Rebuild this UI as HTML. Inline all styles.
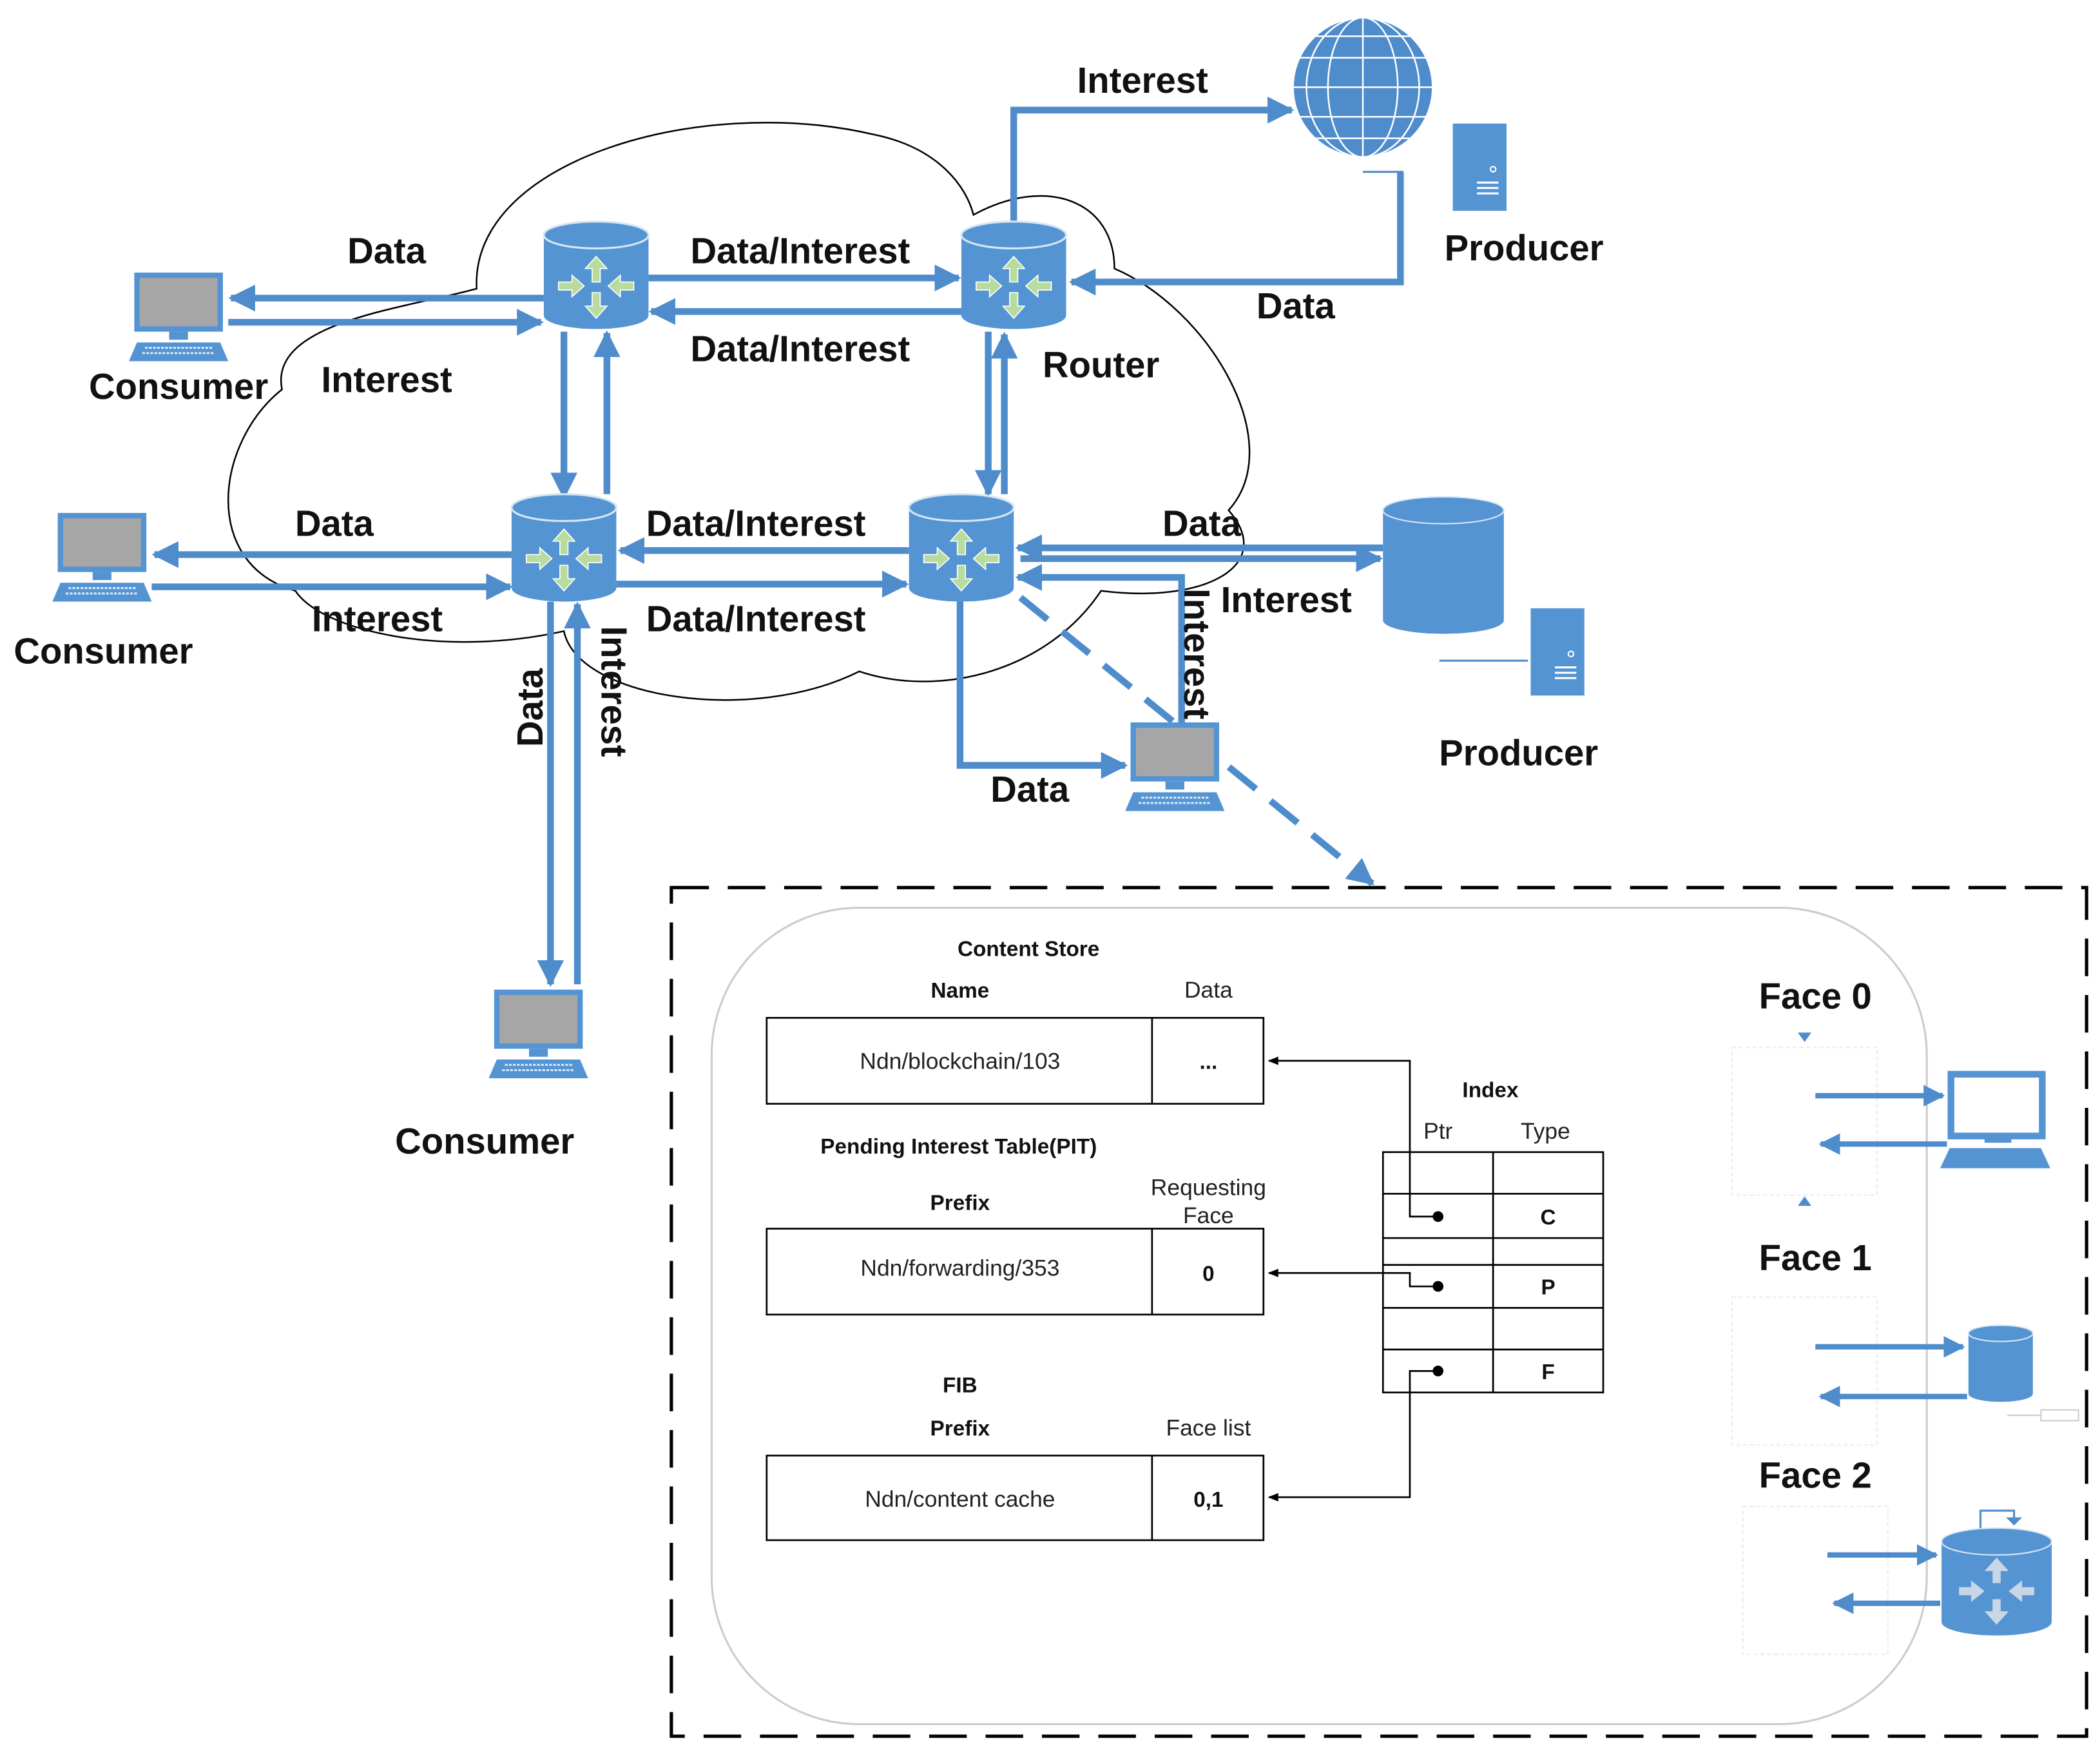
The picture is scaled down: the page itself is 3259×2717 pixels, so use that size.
<!DOCTYPE html>
<html><head><meta charset="utf-8"><style>
html,body{margin:0;padding:0;background:#fff}
svg{display:block}
text{font-family:"Liberation Sans",sans-serif}
.b{font-weight:bold;font-size:27px;fill:#111}
.s{font-size:17px;fill:#222}
.sb{font-size:16px;font-weight:bold;fill:#111}
</style></head><body>
<svg width="3259" height="2717" viewBox="0 0 1564 1304" preserveAspectRatio="none" xmlns="http://www.w3.org/2000/svg">
<defs>
<marker id="a" viewBox="0 0 10 10" refX="9" refY="5" markerWidth="4" markerHeight="4" orient="auto-start-reverse" markerUnits="strokeWidth"><path d="M0,0L10,5L0,10z" fill="#4f8ccc"/></marker>
<marker id="k" viewBox="0 0 10 10" refX="9" refY="5" markerWidth="6" markerHeight="6" orient="auto"><path d="M0,1L10,5L0,9z" fill="#000"/></marker>
<g id="rt">
<path d="M0,10 L0,70 A39,10 0 0 0 78,70 L78,10 z" fill="#5594d3"/>
<ellipse cx="39" cy="10" rx="39" ry="10" fill="#5594d3" stroke="#d6e6f4" stroke-width="1.5"/>
<g fill="#b8dca0" stroke="#fff" stroke-width="0.8">
<path d="M39,26 l-8,9 h5 v10 h6 v-10 h5 z"/>
<path d="M39,72 l-8,-9 h5 v-10 h6 v10 h5 z"/>
<path d="M30,48 l-9,-8 v5 h-10 v6 h10 v5 z"/>
<path d="M48,48 l9,-8 v5 h10 v6 h-10 v5 z"/>
</g></g>
<g id="pc">
<rect x="4" y="0" width="66" height="44" fill="#5594d3"/>
<rect x="8" y="4" width="58" height="36" fill="#a6a6a6"/>
<rect x="30" y="44" width="14" height="6" fill="#5594d3"/>
<path d="M6,52 H68 L74,66 H0 z" fill="#5594d3"/>
<path d="M12,56 H62 M10,60 H64" stroke="#dbe8f5" stroke-width="1.5" stroke-dasharray="2,1"/>
</g>
<g id="srv"><rect x="0" y="0" width="40" height="65" fill="#5594d3"/><circle cx="30" cy="34" r="2" fill="none" stroke="#fff"/><path d="M18,44H34M18,48H34M18,52H34" stroke="#fff" stroke-width="1.5"/></g>
</defs>

<!-- cloud -->
<path d="M355,215 C350,120 520,70 650,100 C700,110 720,140 725,160 C780,130 830,150 830,200 C900,230 960,330 915,380 C950,420 900,450 820,440 C780,500 700,520 640,500 C560,540 430,520 420,470 C330,490 240,470 220,440 C150,420 160,330 210,290 C200,240 300,230 355,215 Z" fill="none" stroke="#000" stroke-width="1.2"/>

<g stroke="#4f8ccc" stroke-width="5" fill="none">
<!-- R1-C1 -->
<line x1="405" y1="222" x2="172" y2="222" marker-end="url(#a)"/>
<line x1="170" y1="240" x2="403" y2="240" marker-end="url(#a)"/>
<!-- R1-R2 -->
<line x1="483" y1="207" x2="714" y2="207" marker-end="url(#a)"/>
<line x1="716" y1="232" x2="485" y2="232" marker-end="url(#a)"/>
<!-- R1-R3 -->
<line x1="420" y1="247" x2="420" y2="370" marker-end="url(#a)"/>
<line x1="452" y1="368" x2="452" y2="248" marker-end="url(#a)"/>
<!-- R2-R4 -->
<line x1="736" y1="247" x2="736" y2="368" marker-end="url(#a)"/>
<line x1="748" y1="368" x2="748" y2="249" marker-end="url(#a)"/>
<!-- R4-R3 -->
<line x1="677" y1="410" x2="462" y2="410" marker-end="url(#a)"/>
<line x1="459" y1="435" x2="675" y2="435" marker-end="url(#a)"/>
<!-- R3-C2 -->
<line x1="381" y1="413" x2="115" y2="413" marker-end="url(#a)"/>
<line x1="113" y1="437" x2="380" y2="437" marker-end="url(#a)"/>
<!-- R3-C3 -->
<line x1="410" y1="448" x2="410" y2="733" marker-end="url(#a)"/>
<line x1="430" y1="733" x2="430" y2="450" marker-end="url(#a)"/>
<!-- R2 interest to globe -->
<polyline points="755,165 755,82 962,82" marker-end="url(#a)"/>
<!-- producer data to R2 -->
<polyline points="1043,128 1043,210 798,210" marker-end="url(#a)"/>
<!-- R4-DB -->
<line x1="1030" y1="408" x2="758" y2="408" marker-end="url(#a)"/>
<line x1="760" y1="416" x2="1028" y2="416" marker-end="url(#a)"/>
<polyline points="880,540 880,430 758,430" marker-end="url(#a)"/>
<!-- R4 to laptop -->
<polyline points="715,448 715,570 838,570" marker-end="url(#a)"/>
<!-- dashed -->
<line x1="760" y1="445" x2="1022" y2="658" stroke-dasharray="26,14" marker-end="url(#a)"/>
</g>
<line x1="1015" y1="128" x2="1045" y2="128" stroke="#4f8ccc" stroke-width="1.5"/>
<line x1="1072" y1="492" x2="1138" y2="492" stroke="#4f8ccc" stroke-width="1.5"/>

<use href="#rt" x="405" y="165"/>
<use href="#rt" x="716" y="165"/>
<use href="#rt" x="381" y="368"/>
<use href="#rt" x="677" y="368"/>
<use href="#pc" x="96" y="203"/>
<use href="#pc" x="39" y="382"/>
<use href="#pc" x="364" y="737"/>
<use href="#pc" x="838" y="538"/>

<!-- globe -->
<g stroke="#fff" stroke-width="1.2" fill="none">
<circle cx="1015" cy="65" r="52" fill="#4f8ccc"/>
<ellipse cx="1015" cy="65" rx="26" ry="52"/><ellipse cx="1015" cy="65" rx="42" ry="52"/><line x1="1015" y1="13" x2="1015" y2="117"/>
<line x1="963" y1="65" x2="1067" y2="65"/><line x1="968" y1="43" x2="1062" y2="43"/><line x1="968" y1="87" x2="1062" y2="87"/><line x1="980" y1="27" x2="1050" y2="27"/><line x1="980" y1="103" x2="1050" y2="103"/>
</g>
<use href="#srv" x="1082" y="92"/>
<use href="#srv" x="1140" y="453"/>
<path d="M1030,380 L1030,462 A45,10 0 0 0 1120,462 L1120,380 z" fill="#5594d3"/>
<ellipse cx="1075" cy="380" rx="45" ry="10" fill="#5594d3" stroke="#d6e6f4"/>

<g class="b" text-anchor="middle">
<text x="851" y="69">Interest</text>
<text x="1135" y="194">Producer</text>
<text x="965" y="237">Data</text>
<text x="288" y="196">Data</text>
<text x="596" y="196">Data/Interest</text>
<text x="596" y="269">Data/Interest</text>
<text x="288" y="292">Interest</text>
<text x="133" y="297">Consumer</text>
<text x="820" y="281">Router</text>
<text x="249" y="399">Data</text>
<text x="563" y="399">Data/Interest</text>
<text x="895" y="399">Data</text>
<text x="958" y="456">Interest</text>
<text x="281" y="470">Interest</text>
<text x="563" y="470">Data/Interest</text>
<text x="77" y="494">Consumer</text>
<text x="1131" y="570">Producer</text>
<text x="767" y="597">Data</text>
<text x="361" y="859">Consumer</text>
<text transform="translate(404,527) rotate(-90)">Data</text>
<text transform="translate(448,515) rotate(90)">Interest</text>
<text transform="translate(882,487) rotate(90)">Interest</text>
</g>

<!-- detail box -->
<rect x="500" y="661" width="1054" height="632" fill="none" stroke="#000" stroke-width="2.5" stroke-dasharray="28,14"/>
<rect x="530" y="676" width="905" height="608" rx="110" fill="none" stroke="#ccc" stroke-width="1.5"/>

<g fill="none" stroke="#000" stroke-width="1.3">
<rect x="571" y="758" width="370" height="64"/><line x1="858" y1="758" x2="858" y2="822"/>
<rect x="571" y="915" width="370" height="64"/><line x1="858" y1="915" x2="858" y2="979"/>
<rect x="571" y="1084" width="370" height="63"/><line x1="858" y1="1084" x2="858" y2="1147"/>
<rect x="1030" y="858" width="164" height="179"/><line x1="1112" y1="858" x2="1112" y2="1037"/>
<path d="M1030,889H1194M1030,922H1194M1030,942H1194M1030,974H1194M1030,1005H1194"/>
<polyline points="1071,906 1050,906 1050,790 945,790" marker-end="url(#k)"/>
<polyline points="1071,958 1050,958 1050,948 945,948" marker-end="url(#k)"/>
<polyline points="1071,1021 1050,1021 1050,1115 945,1115" marker-end="url(#k)"/>
</g>
<circle cx="1071" cy="906" r="4"/><circle cx="1071" cy="958" r="4"/><circle cx="1071" cy="1021" r="4"/>
<g text-anchor="middle">
<text class="sb" x="766" y="712" font-size="17">Content Store</text>
<text class="sb" x="715" y="743" font-size="14">Name</text>
<text class="s" x="900" y="743" font-size="14">Data</text>
<text class="s" x="715" y="796">Ndn/blockchain/103</text>
<text class="sb" x="900" y="796">...</text>
<text class="sb" x="714" y="859" font-size="17">Pending Interest Table(PIT)</text>
<text class="sb" x="715" y="901" font-size="14">Prefix</text>
<text class="s" x="900" y="890" font-size="14">Requesting</text>
<text class="s" x="900" y="911" font-size="14">Face</text>
<text class="s" x="715" y="950">Ndn/forwarding/353</text>
<text class="sb" x="900" y="954">0</text>
<text class="sb" x="715" y="1037">FIB</text>
<text class="sb" x="715" y="1069" font-size="14">Prefix</text>
<text class="s" x="900" y="1069" font-size="14">Face list</text>
<text class="s" x="715" y="1122">Ndn/content cache</text>
<text class="sb" x="900" y="1122">0,1</text>
<text class="sb" x="1110" y="817" font-size="18">Index</text>
<text class="s" x="1071" y="848" font-size="14">Ptr</text>
<text class="s" x="1151" y="848" font-size="14">Type</text>
<text class="sb" x="1153" y="912">C</text>
<text class="sb" x="1153" y="964">P</text>
<text class="sb" x="1153" y="1027">F</text>
<text class="b" x="1352" y="751" font-size="22">Face 0</text>
<text class="b" x="1352" y="946" font-size="22">Face 1</text>
<text class="b" x="1352" y="1108" font-size="22">Face 2</text>
</g>
<g fill="none" stroke="#eee" stroke-width="1.2" stroke-dasharray="3,2">
<rect x="1290" y="780" width="108" height="110"/>
<rect x="1290" y="966" width="108" height="110"/>
<rect x="1298" y="1122" width="108" height="110"/>
</g>
<path d="M1339,769h10l-5,7z M1339,898h10l-5,-7z" fill="#4f8ccc"/>
<g stroke="#4f8ccc" stroke-width="4" fill="none">
<line x1="1352" y1="816" x2="1447" y2="816" marker-end="url(#a)"/>
<line x1="1450" y1="852" x2="1356" y2="852" marker-end="url(#a)"/>
<line x1="1352" y1="1003" x2="1462" y2="1003" marker-end="url(#a)"/>
<line x1="1465" y1="1040" x2="1356" y2="1040" marker-end="url(#a)"/>
<line x1="1361" y1="1158" x2="1442" y2="1158" marker-end="url(#a)"/>
<line x1="1445" y1="1194" x2="1366" y2="1194" marker-end="url(#a)"/>
</g>
<!-- face0 laptop -->
<rect x="1453" y="800" width="68" height="46" fill="none" stroke="#5594d3" stroke-width="5"/>
<rect x="1478" y="846" width="20" height="5" fill="#5594d3"/>
<path d="M1452,855H1520L1527,870H1445z" fill="#5594d3"/>
<!-- face1 db -->
<path d="M1466,993 L1466,1038 A24,6 0 0 0 1514,1038 L1514,993z" fill="#5594d3"/>
<ellipse cx="1490" cy="993" rx="24" ry="6" fill="#5594d3" stroke="#d6e6f4"/>
<line x1="1495" y1="1054" x2="1520" y2="1054" stroke="#ccc"/><rect x="1520" y="1050" width="28" height="8" fill="none" stroke="#ccc"/>
<!-- face2 router -->
<path d="M1446,1148 L1446,1208 A41,10 0 0 0 1528,1208 L1528,1148z" fill="#5594d3"/>
<ellipse cx="1487" cy="1148" rx="41" ry="10" fill="#5594d3" stroke="#d6e6f4"/>
<polyline points="1475,1138 1475,1125 1500,1125 1500,1132" fill="none" stroke="#4f8ccc" stroke-width="1.5"/>
<path d="M1494,1130h12l-6,6z" fill="#4f8ccc"/>
<g fill="#c9d6e6"><path d="M1487,1160l-9,10h6v9h6v-9h6z"/><path d="M1487,1210l-9,-10h6v-9h6v9h6z"/><path d="M1478,1185l-10,-8v5h-9v6h9v5z"/><path d="M1496,1185l10,-8v5h9v6h-9v5z"/></g>
</svg>
</body></html>
